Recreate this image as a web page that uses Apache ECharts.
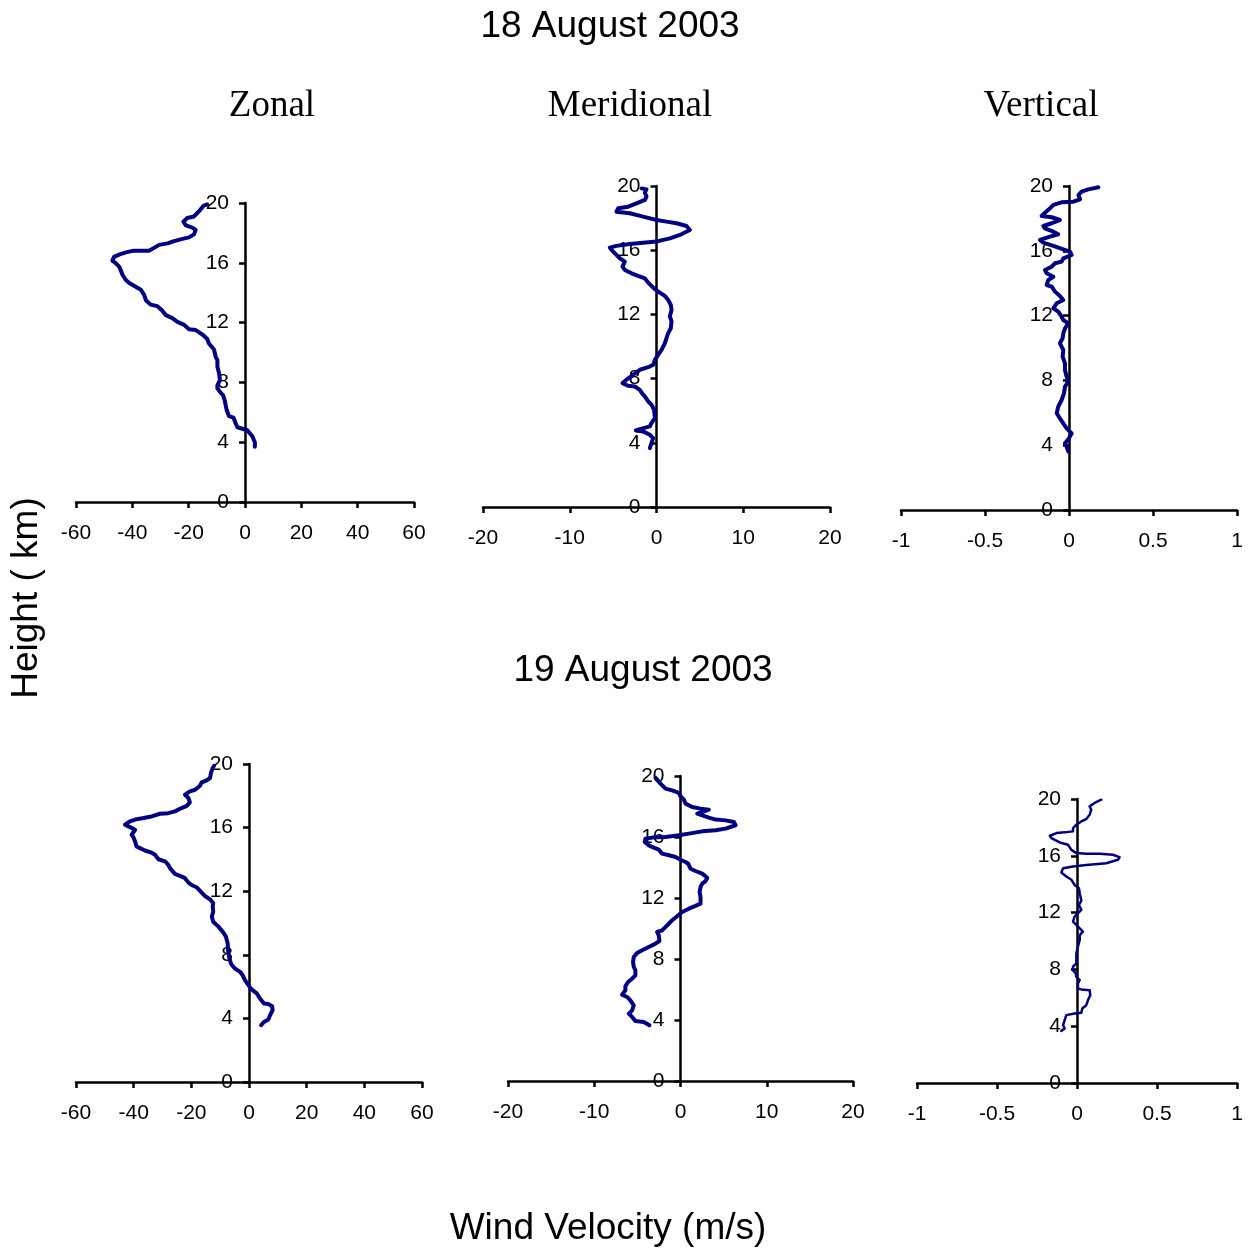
<!DOCTYPE html>
<html>
<head>
<meta charset="utf-8">
<script src="https://cdn.jsdelivr.net/npm/echarts@6/dist/echarts.min.js"></script>
<style>
  html, body { margin: 0; padding: 0; background: #fff; }
  #chart { width: 1258px; height: 1249px; }
</style>
</head>
<body>
<div id="chart"></div>
<script>
// 风速廓线数据 [风速, 高度km]
// 18 August 2003
var zonal18 = [
  [3.5,3.7],[3.5,4.0],[2.6,4.4],[0.8,4.8],[-0.9,4.9],[-2.7,5.0],[-3.3,5.25],[-4.1,5.65],[-5.7,5.75],
  [-6.5,6.15],[-7.2,6.8],[-7.8,7.15],[-8.6,7.3],[-9.8,7.6],[-9.8,7.8],[-8.9,8.15],[-9.2,8.6],[-9.8,9.05],
  [-9.8,9.5],[-10.4,9.7],[-11.0,10.2],[-12.8,10.6],[-13.4,10.9],[-15.1,11.2],[-17.5,11.5],[-19.9,11.55],
  [-21.6,11.85],[-24.0,12.05],[-25.8,12.3],[-28.1,12.5],[-29.6,12.85],[-31.1,13.1],[-33.5,13.2],[-35.2,13.5],
  [-35.8,13.85],[-37.0,14.2],[-38.8,14.4],[-41.1,14.65],[-42.3,14.85],[-43.5,15.2],[-44.1,15.5],[-44.7,15.75],
  [-45.9,15.98],[-47.1,16.15],[-46.5,16.4],[-44.7,16.55],[-42.3,16.7],[-39.9,16.8],[-37.0,16.8],[-34.1,16.8],
  [-32.3,17.0],[-30.5,17.2],[-27.5,17.3],[-25.2,17.45],[-22.2,17.6],[-19.9,17.7],[-18.1,17.9],[-17.5,18.2],
  [-18.7,18.35],[-21.0,18.5],[-21.9,18.75],[-20.5,19.0],[-18.1,19.1],[-16.3,19.45],[-14.8,19.8],[-13.4,19.9]
];
var merid18 = [
  [-0.77,3.67],[-0.58,3.98],[-0.38,4.29],[-0.77,4.5],[-1.54,4.71],[-2.38,4.77],[-1.92,4.85],[-0.77,5.02],
  [-0.58,5.23],[-0.19,5.54],[-0.27,6.06],[-0.58,6.37],[-0.96,6.58],[-1.35,6.89],[-1.62,7.05],[-1.92,7.3],
  [-2.5,7.51],[-3.27,7.55],[-3.92,7.72],[-3.46,7.93],[-2.69,8.24],[-1.92,8.55],[-0.96,8.71],[-0.38,8.86],
  [-0.19,9.17],[0.19,9.48],[0.58,9.79],[0.96,10.2],[1.15,10.52],[1.35,10.83],[1.65,11.14],[1.73,11.56],
  [1.54,11.87],[1.73,12.28],[1.65,12.59],[1.35,12.9],[0.96,13.15],[0.38,13.36],[-0.19,13.57],[-0.58,13.78],
  [-0.96,13.98],[-1.35,14.25],[-2.12,14.4],[-2.88,14.56],[-3.65,14.77],[-3.92,14.98],[-3.65,15.29],
  [-4.23,15.5],[-4.62,15.71],[-5.19,16.02],[-5.38,16.16],[-4.62,16.27],[-3.08,16.39],[-1.54,16.47],
  [0,16.54],[0.77,16.64],[1.54,16.74],[2.69,16.95],[3.85,17.26],[3.46,17.51],[2.31,17.68],[1.15,17.78],
  [0,17.88],[-1.54,18.09],[-3.08,18.3],[-4.62,18.4],[-4.42,18.61],[-3.27,18.71],[-2.31,18.92],[-1.35,19.13],
  [-1.15,19.34],[-1.35,19.59],[-1.15,19.79],[-1.73,19.85]
];
var vert18 = [
  [-0.004,3.6],[-0.014,3.91],[-0.024,4.12],[-0.004,4.36],[0.016,4.73],[-0.014,5.04],[-0.034,5.35],
  [-0.054,5.66],[-0.073,5.97],[-0.064,6.38],[-0.044,6.79],[-0.030,7.2],[-0.024,7.61],[-0.004,7.92],
  [-0.014,8.23],[-0.024,8.64],[-0.024,9.05],[-0.038,9.47],[-0.034,9.88],[-0.054,10.29],[-0.038,10.6],
  [-0.034,10.9],[-0.024,11.21],[-0.004,11.52],[-0.034,11.73],[-0.044,11.93],[-0.064,12.24],[-0.093,12.45],
  [-0.073,12.76],[-0.034,12.96],[-0.054,13.21],[-0.083,13.48],[-0.103,13.79],[-0.133,13.89],[-0.123,14.2],
  [-0.093,14.4],[-0.133,14.61],[-0.143,14.81],[-0.103,15.02],[-0.083,15.23],[-0.044,15.33],[-0.034,15.53],
  [0.016,15.74],[0.006,15.95],[-0.034,16.09],[-0.093,16.3],[-0.153,16.5],[-0.173,16.67],[-0.113,16.87],
  [-0.064,17.02],[-0.093,17.18],[-0.143,17.39],[-0.153,17.53],[-0.103,17.7],[-0.054,17.9],[-0.103,18.07],
  [-0.163,18.15],[-0.143,18.35],[-0.113,18.62],[-0.093,18.83],[-0.044,18.99],[0.026,19.03],[0.066,19.18],
  [0.056,19.44],[0.075,19.65],[0.115,19.79],[0.175,19.92]
];
// 19 August 2003
var zonal19 = [
  [4.2,3.57],[5.2,3.78],[6.7,3.93],[7.3,4.2],[8.2,4.52],[8.0,4.77],[6.7,4.9],[5.2,4.94],[3.8,5.25],
  [2.7,5.57],[0.9,5.82],[-0.2,6.09],[-1.4,6.41],[-2.2,6.72],[-3.1,6.93],[-4.9,7.14],[-6.2,7.42],[-6.8,7.77],
  [-7.2,8.19],[-7.4,8.72],[-8.0,9.14],[-9.1,9.45],[-10.6,9.77],[-12.4,10.08],[-12.9,10.4],[-12.4,10.71],
  [-12.6,11.03],[-12.4,11.24],[-13.5,11.49],[-15.3,11.7],[-16.4,11.91],[-18.2,12.25],[-19.9,12.39],
  [-21.0,12.54],[-22.2,12.82],[-23.9,12.96],[-25.7,13.09],[-27.4,13.45],[-28.0,13.66],[-29.1,13.87],
  [-31.4,14.01],[-32.6,14.29],[-33.8,14.43],[-36.1,14.56],[-37.8,14.71],[-39.0,14.81],[-39.5,15.13],
  [-40.1,15.4],[-40.7,15.55],[-39.5,15.86],[-41.3,16.03],[-43.0,16.18],[-41.3,16.39],[-39.0,16.53],
  [-36.6,16.6],[-33.8,16.7],[-30.9,16.87],[-28.0,16.91],[-25.7,17.02],[-23.4,17.23],[-21.6,17.37],
  [-20.5,17.58],[-21.0,17.86],[-22.2,18.07],[-20.5,18.28],[-18.7,18.38],[-17.0,18.63],[-16.4,18.84],
  [-14.7,18.97],[-13.5,19.12],[-13.2,19.43],[-12.6,19.75],[-12.1,19.89]
];
var merid19 = [
  [-3.6,3.65],[-4.26,3.87],[-5.23,3.93],[-5.61,4.2],[-6.0,4.42],[-5.61,4.63],[-5.42,4.96],[-5.81,5.29],
  [-6.19,5.51],[-6.78,5.66],[-6.39,5.95],[-6.39,6.21],[-6.08,6.49],[-5.61,6.71],[-5.23,6.93],[-5.23,7.26],
  [-5.42,7.48],[-5.5,7.8],[-5.42,8.13],[-5.03,8.39],[-4.45,8.57],[-3.68,8.79],[-2.9,9.01],[-2.44,9.18],
  [-2.52,9.55],[-2.71,9.77],[-2.13,9.88],[-1.55,10.21],[-0.97,10.54],[-0.39,10.8],[0.19,11.08],[0.97,11.3],
  [1.74,11.48],[2.32,11.63],[2.32,12.07],[2.21,12.39],[2.32,12.72],[2.52,12.94],[2.9,13.11],[3.1,13.33],
  [2.52,13.6],[1.74,13.77],[1.16,13.92],[0.89,14.25],[0.58,14.36],[0,14.51],[-0.58,14.69],[-1.35,14.8],
  [-2.13,14.91],[-2.52,15.17],[-3.1,15.3],[-3.68,15.45],[-4.14,15.67],[-4.07,15.89],[-3.29,15.96],
  [-1.74,16.0],[-0.19,16.11],[0.97,16.22],[2.52,16.37],[4.07,16.44],[5.23,16.55],[6.39,16.77],[6.19,16.98],
  [5.23,17.09],[4.07,17.14],[3.29,17.27],[2.52,17.42],[1.94,17.53],[2.52,17.64],[3.29,17.79],[2.32,17.86],
  [1.35,17.97],[0.58,18.19],[0.39,18.45],[0,18.67],[-0.19,18.89],[-0.97,19.06],[-1.74,19.17],[-2.32,19.5],
  [-2.71,19.76],[-2.9,19.89]
];
var vert19 = [
  [-0.098,3.67],[-0.077,3.84],[-0.087,4.07],[-0.077,4.42],[-0.067,4.78],[-0.015,4.89],[0.027,4.94],
  [0.033,5.25],[0.058,5.48],[0.069,5.84],[0.083,6.19],[0.079,6.54],[0.027,6.59],[0.006,6.66],[0.006,7.01],
  [0.017,7.25],[-0.004,7.48],[-0.008,7.72],[-0.025,7.95],[-0.025,8.19],[-0.004,8.42],[-0.004,9.13],
  [0.006,9.6],[0.017,10.07],[0.017,10.42],[0.037,10.66],[0.017,10.89],[-0.004,11.13],[-0.025,11.36],
  [-0.015,11.72],[0.027,12.19],[0.012,12.54],[0.027,12.85],[0.017,13.36],[0.012,13.72],[-0.015,13.95],
  [-0.035,14.31],[-0.067,14.54],[-0.098,14.82],[-0.087,15.13],[-0.025,15.25],[0.058,15.36],[0.183,15.48],
  [0.256,15.72],[0.266,15.91],[0.224,16.07],[0.141,16.14],[0.058,16.14],[-0.004,16.19],[-0.035,16.42],
  [-0.056,16.78],[-0.108,16.94],[-0.16,17.25],[-0.17,17.41],[-0.129,17.6],[-0.077,17.65],[-0.025,17.72],
  [-0.025,17.95],[-0.004,18.19],[0.027,18.42],[0.058,18.59],[0.079,18.89],[0.089,19.25],[0.079,19.48],
  [0.11,19.72],[0.152,19.95]
];

// 坐标轴范围 [min, max, interval]
var xRanges = [[-60, 60, 20], [-20, 20, 10], [-1, 1, 0.5]];
var heightTicks = [0, 20, 4];

var chart = echarts.init(document.getElementById('chart'));

// 各面板位置
var panels = [
  { left: 76,  top: 203, width: 338, height: 299, range: 0, data: zonal18, w: 4 },
  { left: 483, top: 186, width: 347, height: 321, range: 1, data: merid18, w: 4 },
  { left: 901, top: 186, width: 336, height: 324, range: 2, data: vert18, w: 4 },
  { left: 76,  top: 764, width: 346, height: 318, range: 0, data: zonal19, w: 4 },
  { left: 508, top: 776, width: 345, height: 305, range: 1, data: merid19, w: 4 },
  { left: 917, top: 799, width: 320, height: 284, range: 2, data: vert19, w: 2.5 }
];

var lineStyleAxis = { color: '#000', width: 2.5 };
var sans = 'Liberation Sans, Arial';
var serif = 'Liberation Serif, Times New Roman';

var grids = [], xAxes = [], yAxes = [], series = [];
panels.forEach(function (p, i) {
  var r = xRanges[p.range];
  // y轴放在 x=0 处
  var yOffset = -p.width * (0 - r[0]) / (r[1] - r[0]);
  grids.push({ left: p.left, top: p.top, width: p.width, height: p.height });
  xAxes.push({
    type: 'value', gridIndex: i, min: r[0], max: r[1], interval: r[2],
    axisLine: { onZero: false, lineStyle: lineStyleAxis },
    axisTick: { show: true, length: 6, lineStyle: lineStyleAxis },
    axisLabel: { margin: 21, color: '#000', fontSize: 21, fontFamily: sans },
    splitLine: { show: false }
  });
  yAxes.push({
    type: 'value', gridIndex: i, min: heightTicks[0], max: heightTicks[1], interval: heightTicks[2],
    position: 'left', offset: yOffset,
    axisLine: { show: true, onZero: false, lineStyle: lineStyleAxis },
    axisTick: { show: true, length: 6, lineStyle: lineStyleAxis },
    axisLabel: { margin: 16, color: '#000', fontSize: 21, fontFamily: sans },
    splitLine: { show: false }
  });
  series.push({
    type: 'line', xAxisIndex: i, yAxisIndex: i, data: p.data,
    showSymbol: false, symbol: 'none', animation: false,
    lineStyle: { color: '#000080', width: p.w, join: 'round', cap: 'round' }
  });
});

function txt(x, y, s, family, size, rot) {
  return {
    type: 'text', x: x, y: y, rotation: rot || 0,
    style: {
      text: s, fill: '#000', fontSize: size, fontFamily: family,
      textAlign: 'center', textVerticalAlign: 'middle'
    }
  };
}

chart.setOption({
  backgroundColor: '#fff',
  animation: false,
  grid: grids,
  xAxis: xAxes,
  yAxis: yAxes,
  series: series,
  graphic: [
    txt(610, 27, '18 August 2003', sans, 37),
    txt(272, 106, 'Zonal', serif, 37),
    txt(630, 106, 'Meridional', serif, 37),
    txt(1041, 106, 'Vertical', serif, 37),
    txt(643, 671, '19 August 2003', sans, 37),
    txt(608, 1229, 'Wind Velocity (m/s)', sans, 37),
    txt(27, 598, 'Height ( km)', sans, 37, Math.PI / 2)
  ]
});

window.onresize = function () {
  chart.resize();
};
</script>
</body>
</html>
